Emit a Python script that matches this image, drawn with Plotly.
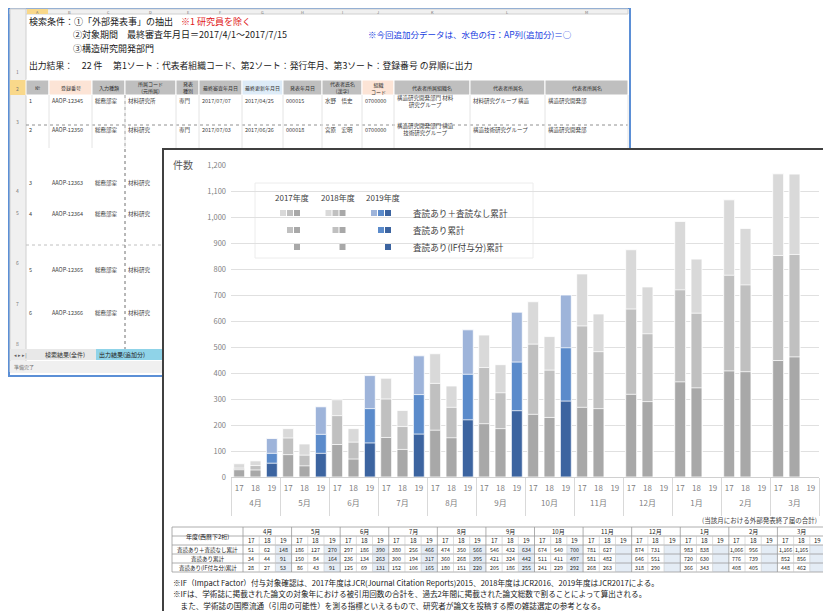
import plotly.graph_objects as go

# ---- データ ----
months = ["4月", "5月", "6月", "7月", "8月", "9月", "10月", "11月", "12月", "1月", "2月", "3月"]
years = ["17", "18", "19"]

# 査読あり＋査読なし累計
total_17 = [51, 186, 297, 380, 474, 546, 674, 781, 874, 983, 1066, 1166]
total_18 = [62, 127, 186, 256, 350, 432, 540, 627, 731, 838, 956, 1165]
total_19 = [148, 270, 390, 466, 566, 634, 700]
# 査読あり累計
peer_17 = [34, 150, 236, 300, 360, 421, 511, 581, 646, 720, 776, 852]
peer_18 = [44, 84, 134, 194, 268, 324, 411, 482, 551, 630, 739, 856]
peer_19 = [91, 164, 263, 317, 395, 442, 497]
# 査読あり(IF付与分)累計
if_17 = [28, 86, 125, 152, 180, 205, 241, 268, 318, 366, 408, 448]
if_18 = [27, 43, 69, 106, 151, 186, 229, 263, 290, 343, 405, 462]
if_19 = [53, 91, 131, 165, 220, 255, 292]

row_names = ["査読あり＋査読なし累計", "査読あり累計", "査読あり(IF付与分)累計"]
year_names = ["2017年度", "2018年度", "2019年度"]

gray = ["#d9d9d9", "#c0c0c0", "#a8a8a8"]
blue = ["#9eb4da", "#5b8bcb", "#3c64a0"]

# ---- 座標変換 (画面ピクセル -> paper) ----
# ページ本体に 8px の余白があるので、図は 823x603 にしてずらす
OFF = 8
FW, FH = 831 - OFF, 611 - OFF
L, R, T, B = 231, 819, 165, 477
W, H = R - L, B - T


def px(x):
    return (x - L) / W


def py(y):
    return (B - y) / H


shapes = []
annos = []


def rect(x0, y0, x1, y1, fill=None, line=None, lw=1, dash=None):
    ln = dict(color=line or "rgba(0,0,0,0)", width=lw if line else 0)
    if dash:
        ln["dash"] = dash
    shapes.append(dict(type="rect", xref="paper", yref="paper", layer="below",
                       x0=px(x0), x1=px(x1), y0=py(y1), y1=py(y0),
                       fillcolor=fill or "rgba(0,0,0,0)", line=ln))


def seg(x0, y0, x1, y1, color="#bfbfbf", lw=1, dash=None, layer="below"):
    ln = dict(color=color, width=lw)
    if dash:
        ln["dash"] = dash
    shapes.append(dict(type="line", xref="paper", yref="paper", layer=layer,
                       x0=px(x0), x1=px(x1), y0=py(y0), y1=py(y1), line=ln))


def text(x, y, s, size=8, color="#404040", anchor="left"):
    annos.append(dict(xref="paper", yref="paper", x=px(x), y=py(y), text=s,
                      showarrow=False, xanchor=anchor, yanchor="middle",
                      borderpad=0, font=dict(size=size, color=color)))


# ---- 背景の Excel 画面 ----
rect(9, 8, 630, 376, fill="white", line="#5b8fd6", lw=2)
rect(10, 9, 628, 14, fill="#f0f0f0", line="#d0d0d0")
rect(10, 9, 26, 372, fill="#f0f0f0", line="#d0d0d0")
rect(27, 9, 48, 14, fill="#f9d88a")
for lx, s in zip([37, 70, 108, 150, 188, 220, 262, 302, 342, 378, 432, 507, 586],
                 ["A", "B", "C", "D", "E", "F", "G", "H", "I", "J", "K", "L", "M"]):
    text(lx, 11.5, s, size=4, color="#777777", anchor="center")
rect(10, 80, 26, 95, fill="#f9d88a")
for ry, s in zip([72, 88, 121, 190, 212, 262, 303, 343], ["1", "2", "3", "4", "5", "6", "7", "8"]):
    text(17, ry, s, size=5, color="#777777", anchor="center")

text(28, 21, "検索条件：①「外部発表事」の抽出", size=9, color="#202020")
text(180, 21, "※1 研究員を除く", size=9, color="#e02020")
text(72, 34.5, "②対象期間　最終審査年月日＝2017/4/1～2017/7/15", size=9, color="#202020")
text(367, 34.5, "※今回追加分データは、水色の行：AP列(追加分)＝○", size=8.5, color="#2040e0")
text(72, 48, "③構造研究開発部門", size=9, color="#202020")
text(28, 65, "出力結果：　22 件　 第1ソート：代表者組織コード、第2ソート：発行年月、第3ソート：登録番号 の昇順に出力",
     size=8.8, color="#202020")

cols = [26, 49, 92, 125, 176, 199, 242, 283, 322, 362, 394, 470, 545, 628]
head_fill = ["#bfbfbf", "#fce4d6", "#bfbfbf", "#bfbfbf", "#bfbfbf", "#bfbfbf", "#ddebf7",
             "#bfbfbf", "#bfbfbf", "#fce4d6", "#bfbfbf", "#bfbfbf", "#bfbfbf"]
head_text = ["№", "登録番号", "入力種類", "所属コード<br>(元所属)", "発表<br>種別", "最終審査年月日",
             "最終更新年月日", "発表年月日", "代表者氏名<br>(漢字)", "組織<br>コード",
             "代表者所属組織名", "代表者所属名", "代表者所属名"]
for i in range(len(head_fill)):
    rect(cols[i], 80, cols[i + 1], 95, fill=head_fill[i], line="#ffffff", lw=1)
    text((cols[i] + cols[i + 1]) / 2, 87.5, head_text[i], size=5, color="#303030", anchor="center")

row1 = ["1", "AAOP-12345", "総務部室", "材料研究所", "専門", "2017/07/07", "2017/04/25", "000015",
        "水野　悟史", "0700000", "構造研究開発部門 材料<br>研究グループ", "材料研究グループ 構造",
        "構造研究開発部"]
row2 = ["2", "AAOP-12350", "総務部室", "材料研究", "専門", "2017/07/03", "2017/06/26", "000018",
        "宮原　宏明", "0700000", "構造研究開発部門 構造<br>技術研究グループ", "構造技術研究グループ",
        "構造研究開発部"]
for ry, row in [(101, row1), (130, row2)]:
    for i, s in enumerate(row):
        text(cols[i] + 2, ry, s, size=5.5, color="#404040")
for ry, n in zip([183, 214, 270, 313], ["3", "4", "5", "6"]):
    for i, s in enumerate([n, "AAOP-1236" + n, "総務部室", "材料研究"]):
        text(cols[i] + 2, ry, s, size=5.5, color="#404040")
seg(26, 125, 628, 125, color="#909090", lw=1, dash="dot")
seg(26, 245, 163, 245, color="#c0c0c0", lw=1, dash="dot")
seg(125, 95, 125, 350, color="#707070", lw=1, dash="dot")
for cx in cols[1:]:
    seg(cx, 95, cx, 148, color="#e4e4e4", lw=1)

rect(10, 349, 163, 360, fill="#e8e8e8")
text(13, 354.5, "◂ ▸ ▸|", size=5, color="#606060")
text(44, 354.5, "検索結果(全件)", size=6, color="#303030")
rect(96, 349, 163, 360, fill="#8fd3e8")
text(98, 354.5, "出力結果(追加分)", size=6, color="#202020")
rect(10, 361, 163, 373, fill="#f0f0f0")
text(13, 367, "準備完了", size=5, color="#707070")

# ---- グラフ パネル ----
rect(163, 149, 829, 620, fill="white", line="#404040", lw=2)

# 凡例
rect(255, 183, 533, 258, fill="white", line="#ececec")
for j, yn in enumerate(year_names):
    text(292 + j * 45.5, 197, yn, size=8, color="#404040", anchor="center")
    pal = gray if j < 2 else blue
    x0 = 280 + j * 45.5
    for r in range(3):
        yc = 213 + r * 17
        for i in range(r, 3):
            rect(x0 + i * 7, yc - 3, x0 + i * 7 + 6, yc + 3, fill=pal[i])
for r, nm in enumerate(row_names):
    text(412, 213 + r * 17, nm, size=8.6, color="#404040")

text(183, 164, "件数", size=10, color="#595959", anchor="center")
text(818, 520, "(当該月における外部発表終了届の合計)", size=6.5, color="#404040", anchor="right")

# ---- 表 ----
tl, tc, tr = 172, 243, 826
ty = [527, 536, 545, 554, 563, 572]
mw = (tr - tc) / 12
cw = mw / 3
for m in range(12):
    rect(tc + m * mw + 2 * cw, ty[2], tc + m * mw + 3 * cw, ty[5], fill="#e4ecf5")
for yy in ty:
    seg(tl, yy, tr, yy, color="#9a9a9a", lw=0.8)
seg(tl, ty[0], tl, ty[5], color="#9a9a9a", lw=0.8)
seg(tr, ty[0], tr, ty[5], color="#9a9a9a", lw=0.8)
for m in range(13):
    seg(tc + m * mw, ty[0], tc + m * mw, ty[5], color="#9a9a9a", lw=0.8)
    if m < 12:
        for k in (1, 2):
            seg(tc + m * mw + k * cw, ty[1], tc + m * mw + k * cw, ty[5], color="#c8c8c8", lw=0.6)
text((tl + tc) / 2, (ty[0] + ty[2]) / 2, "年度(西暦下2桁)", size=6, color="#202020", anchor="center")
for r, nm in enumerate(row_names):
    text((tl + tc) / 2, (ty[r + 2] + ty[r + 3]) / 2, nm, size=5.5, color="#202020", anchor="center")

table_rows = [[total_17, total_18, total_19], [peer_17, peer_18, peer_19], [if_17, if_18, if_19]]
for m, mn in enumerate(months):
    text(tc + m * mw + mw / 2, (ty[0] + ty[1]) / 2, mn, size=6, color="#202020", anchor="center")
    for k, yr in enumerate(years):
        cx = tc + m * mw + (k + 0.5) * cw
        text(cx, (ty[1] + ty[2]) / 2, yr, size=6, color="#202020", anchor="center")
        for r in range(3):
            vals = table_rows[r][k]
            if m < len(vals):
                text(cx, (ty[r + 2] + ty[r + 3]) / 2, f"{vals[m]:,}", size=5.3,
                     color="#202020", anchor="center")

notes = [
    "※IF（Impact Factor）付与対象確認は、2017年度はJCR(Journal Citation Reports)2015、2018年度はJCR2016、2019年度はJCR2017による。",
    "※IFは、学術誌に掲載された論文の対象年における被引用回数の合計を、過去2年間に掲載された論文総数で割ることによって算出される。",
    "　また、学術誌の国際流通（引用の可能性）を測る指標といえるもので、研究者が論文を投稿する際の雑誌選定の参考となる。",
]
for i, s in enumerate(notes):
    text(172, 582 + i * 11.8, s, size=7.6, color="#202020")

# ---- 棒グラフ ----
cats = [f"{m}_{y}" for m in months for y in years]
year_ticks = [y for _ in months for y in years]
n = len(cats)


def interleave(a, b, c):
    out = []
    for i in range(len(months)):
        out += [a[i], b[i], c[i] if i < len(c) else None]
    return out


fig = go.Figure()
for level, series in enumerate([(total_17, total_18, total_19),
                                (peer_17, peer_18, peer_19),
                                (if_17, if_18, if_19)]):
    colors = [gray[level], gray[level], blue[level]] * len(months)
    fig.add_trace(go.Bar(
        x=cats, y=interleave(*series), name=row_names[level],
        marker=dict(color=colors, line=dict(color="white", width=0.8)),
        showlegend=False,
    ))
# 月ラベル用・区切り線用の補助軸
fig.add_trace(go.Scatter(x=[], y=[], xaxis="x2", showlegend=False))
fig.add_trace(go.Scatter(x=[], y=[], xaxis="x3", showlegend=False))

fig.update_layout(
    width=FW, height=FH,
    margin=dict(l=L - OFF, r=831 - R, t=T - OFF, b=611 - B),
    barmode="overlay", bargap=0.33,
    paper_bgcolor="white", plot_bgcolor="rgba(0,0,0,0)",
    font=dict(family="Noto Sans CJK JP", color="#595959"),
    shapes=shapes, annotations=annos,
    xaxis=dict(
        type="category", range=[-0.5, n - 0.5],
        tickmode="array", tickvals=cats, ticktext=year_ticks,
        showline=True, linecolor="#d0d0d0", ticks="", ticklabelstandoff=3,
        tickfont=dict(size=8, color="#7f7f7f"), tickangle=0, showgrid=False,
    ),
    xaxis2=dict(
        overlaying="x", anchor="y", side="bottom", type="linear",
        range=[-0.5, n - 0.5], tickmode="array",
        tickvals=[3 * i + 1 for i in range(len(months))], ticktext=months,
        ticks="", ticklabelstandoff=20, showgrid=False, zeroline=False, showline=False,
        tickfont=dict(size=8, color="#7f7f7f"), tickangle=0,
    ),
    xaxis3=dict(
        overlaying="x", anchor="y", side="bottom", type="linear",
        range=[-0.5, n - 0.5], tickmode="array",
        tickvals=[3 * i - 0.5 for i in range(len(months) + 1)],
        ticks="outside", ticklen=38, tickcolor="#d9d9d9", tickwidth=1,
        showticklabels=False, showgrid=False, zeroline=False, showline=False,
    ),
    yaxis=dict(
        range=[0, 1200], dtick=100, tickformat=",d",
        gridcolor="#e0e0e0", zeroline=False,
        tickfont=dict(size=7.5, color="#7f7f7f"), ticks="", ticklabelstandoff=4,
    ),
)

fig.write_html("out.html")
